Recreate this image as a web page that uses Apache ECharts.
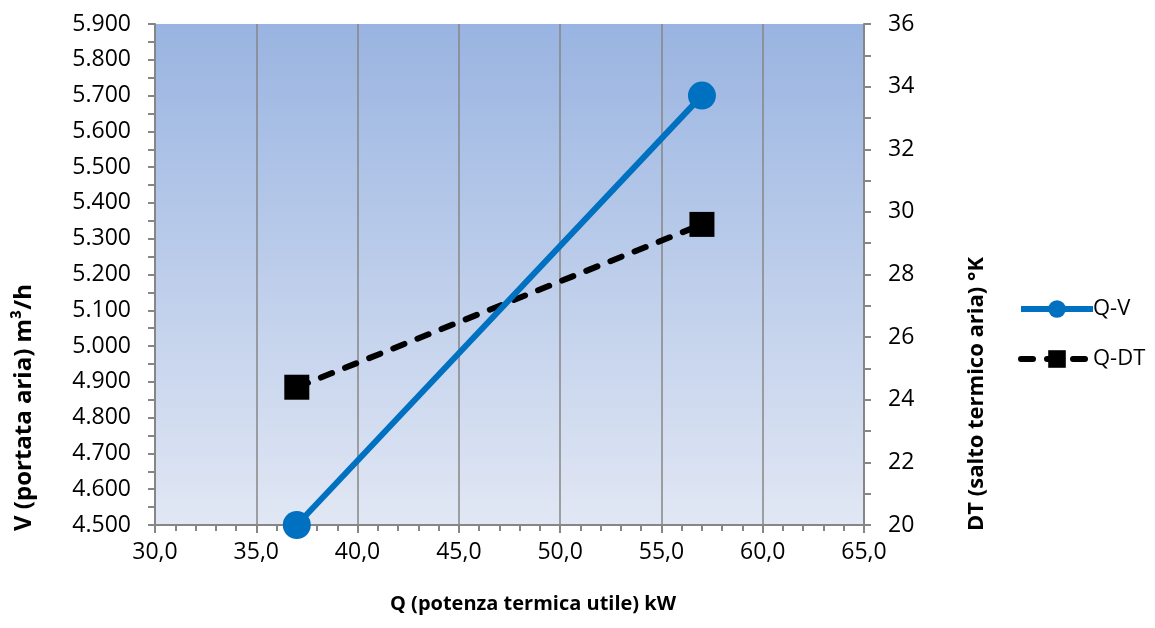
<!DOCTYPE html>
<html>
<head>
<meta charset="utf-8">
<script src="https://cdn.jsdelivr.net/npm/echarts@6/dist/echarts.min.js"></script>
<style>html,body{margin:0;padding:0;background:#fff}#c{width:1155px;height:628px}</style>
</head>
<body>
<div id="c"></div>
<script>
const qValues = [37, 57];
const vValues = [4500, 5700];
const dtValues = [24.4, 29.6];
const xTitle = 'Q (potenza termica utile) kW';
const yLeftTitle = 'V (portata aria) m³/h';
const yRightTitle = 'DT (salto termico aria) °K';
const seriesNames = ['Q-V', 'Q-DT'];

const FONT = 'Open Sans';
const chart = echarts.init(document.getElementById('c'), null, {renderer: 'canvas'});
const axisGray = '#868686';
const lbl = {color: '#000', fontFamily: FONT, fontSize: 23};

chart.setOption({
  animation: false,
  textStyle: {fontFamily: FONT},
  grid: {left: 155, right: 291, top: 24, bottom: 103, show: true, borderWidth: 0,
    backgroundColor: new echarts.graphic.LinearGradient(0, 0, 0, 1, [
      {offset: 0, color: '#99b4e1'},
      {offset: 1, color: '#e1e7f4'}
    ])},
  legend: {
    orient: 'vertical', left: 1013, top: 293, itemGap: 28,
    itemWidth: 72, itemHeight: 22,
    lineStyle: {width: 6},
    textStyle: {fontFamily: FONT, fontSize: 22, color: '#000', padding: [0, 0, 0, -5]},
    data: seriesNames
  },
  xAxis: {
    type: 'value', min: 30, max: 65, interval: 5,
    axisLine: {show: true, lineStyle: {color: axisGray, width: 2}},
    axisTick: {show: true, length: 8, lineStyle: {color: axisGray, width: 2}},
    minorTick: {show: true, splitNumber: 5, length: 6, lineStyle: {color: axisGray, width: 2}},
    splitLine: {show: true, lineStyle: {color: axisGray, width: 1.5}},
    axisLabel: Object.assign({margin: 16, formatter: v => v.toFixed(1).replace('.', ',')}, lbl)
  },
  yAxis: [{
    type: 'value', min: 4500, max: 5900, interval: 100, position: 'left',
    axisLine: {show: true, lineStyle: {color: axisGray, width: 2}},
    axisTick: {show: true, length: 7, lineStyle: {color: axisGray, width: 2}},
    minorTick: {show: true, splitNumber: 2, length: 7, lineStyle: {color: axisGray, width: 2}},
    splitLine: {show: false},
    axisLabel: Object.assign({margin: 24, formatter: v => {
      const t = Math.floor(v / 1000), r = Math.round(v % 1000);
      return t + '.' + String(r).padStart(3, '0');
    }}, lbl)
  }, {
    type: 'value', min: 20, max: 36, interval: 2, position: 'right',
    axisLine: {show: true, lineStyle: {color: axisGray, width: 2}},
    axisTick: {show: true, length: 7, lineStyle: {color: axisGray, width: 2}},
    minorTick: {show: true, splitNumber: 2, length: 7, lineStyle: {color: axisGray, width: 2}},
    splitLine: {show: false},
    axisLabel: Object.assign({margin: 24}, lbl)
  }],
  series: [{
    name: seriesNames[0], type: 'line', yAxisIndex: 0,
    data: qValues.map((q, i) => [q, vValues[i]]),
    symbol: 'circle', symbolSize: 28,
    lineStyle: {color: '#0070c0', width: 6},
    itemStyle: {color: '#0070c0'}, z: 3
  }, {
    name: seriesNames[1], type: 'line', yAxisIndex: 1,
    data: qValues.map((q, i) => [q, dtValues[i]]),
    symbol: 'rect', symbolSize: 25,
    lineStyle: {color: '#000', width: 6, type: [12, 14], cap: 'round'},
    itemStyle: {color: '#000'}, z: 2
  }],
  graphic: [
    {type: 'text', left: 390, top: 594, style: {text: xTitle, font: 'bold 20px "Open Sans"', fill: '#000'}},
    {type: 'text', x: 12, y: 531, rotation: Math.PI / 2, style: {text: yLeftTitle, font: 'bold 24px "Open Sans"', fill: '#000', textVerticalAlign: 'top'}},
    {type: 'text', x: 966, y: 531, rotation: Math.PI / 2, style: {text: yRightTitle, font: 'bold 22px "Open Sans"', fill: '#000', textVerticalAlign: 'top'}}
  ]
});
</script>
</body>
</html>
